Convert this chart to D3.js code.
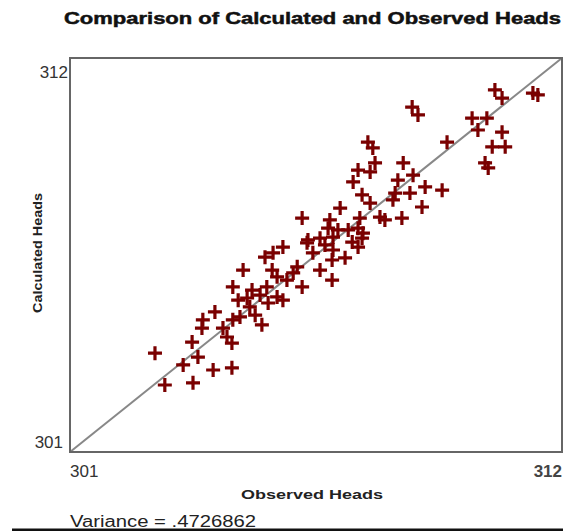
<!DOCTYPE html>
<html>
<head>
<meta charset="utf-8">
<script src="https://cdn.jsdelivr.net/npm/d3@7"></script>
<style>
body { margin: 0; background: #fff; }
text { font-family: "Liberation Sans", Arial, sans-serif; }
</style>
</head>
<body>
<script>
// observed (x) and calculated (y) heads
var observed = [302.90, 303.12, 303.75, 303.53, 303.86, 304.20, 304.62, 303.73, 303.97, 303.95,
    304.24, 304.42, 304.51, 304.62, 304.64, 304.80, 304.87, 304.64, 304.76, 304.96,
    305.07, 305.02, 305.14, 305.29, 305.25, 305.40, 305.36, 305.54, 305.76, 305.52,
    305.63, 305.43, 305.63, 305.76, 305.85, 305.99, 306.08, 306.19, 306.30, 306.43,
    306.59, 306.70, 306.88, 306.86, 307.82, 307.44, 307.71, 307.33, 308.45, 308.33,
    308.67, 308.94, 307.53, 307.71, 308.27, 308.22, 308.60, 308.87, 307.04, 306.19,
    306.81, 306.77, 307.48, 307.93, 308.04, 308.42, 307.44, 307.22, 306.99, 306.88,
    306.59, 306.32, 307.53, 307.44, 307.31, 307.15, 306.86, 310.50, 310.66, 311.35,
    311.46, 308.65, 308.78, 309.99, 310.32, 310.12, 310.66, 309.43, 310.44, 310.73,
    310.28, 310.35, 307.77, 307.66, 309.32, 307.55];

var calculated = [303.76, 302.87, 302.93, 303.43, 303.65, 303.29, 303.35, 304.07, 304.69, 304.46,
    304.91, 304.46, 304.21, 304.04, 304.69, 304.77, 306.08, 305.61, 305.24, 305.30,
    305.52, 305.05, 304.82, 304.55, 305.38, 305.61, 306.44, 306.56, 306.72, 306.08,
    305.89, 305.16, 305.33, 305.24, 305.80, 306.00, 306.17, 305.61, 306.84, 306.56,
    306.08, 306.78, 306.64, 305.80, 309.07, 308.87, 308.82, 308.54, 309.07, 308.59,
    308.73, 308.40, 308.18, 307.95, 308.23, 308.04, 308.23, 307.84, 307.81, 307.53,
    307.48, 307.25, 307.53, 307.56, 307.48, 307.53, 307.25, 307.20, 307.20, 307.00,
    306.97, 306.92, 306.97, 306.72, 306.86, 306.42, 306.36, 311.11, 310.88, 311.02,
    310.97, 310.63, 310.41, 310.32, 310.32, 309.99, 309.93, 309.65, 309.52, 309.52,
    309.07, 308.93, 309.49, 309.65, 308.31, 307.11];

var tickValues = [301, 312];
var title = "Comparison of Calculated and Observed Heads";
var variance = ".4726862";

var width = 563,
    height = 531;

var svg = d3.select('body')
    .append('svg')
    .attr('width', width)
    .attr('height', height);

var x = d3.scaleLinear().domain([301, 312]).range([70, 562]);
var y = d3.scaleLinear().domain([301, 312]).range([452, 58]);

svg.append('text')
    .attr('x', 64)
    .attr('y', 24)
    .attr('font-size', 17)
    .attr('font-weight', 'bold')
    .attr('textLength', 497)
    .attr('lengthAdjust', 'spacingAndGlyphs')
    .attr('fill', '#111')
    .attr('stroke', '#111')
    .attr('stroke-width', 0.5)
    .text(title);

// 1:1 line
svg.append('line')
    .attr('x1', x(301)).attr('y1', y(301))
    .attr('x2', x(312)).attr('y2', y(312))
    .attr('stroke', '#888')
    .attr('stroke-width', 2);

svg.selectAll('path.pt')
    .data(observed).enter()
    .append('path')
    .attr('class', 'pt')
    .attr('transform', (d, i) => 'translate(' + x(d) + ',' + y(calculated[i]) + ')')
    .attr('d', 'M-7,0H7M0,-7V7')
    .attr('stroke', '#7a0000')
    .attr('stroke-width', 3.2);

// frame
svg.append('rect')
    .attr('x', x(301)).attr('y', y(312))
    .attr('width', x(312) - x(301))
    .attr('height', y(301) - y(312))
    .attr('fill', 'none')
    .attr('stroke', '#666')
    .attr('stroke-width', 2);

// tick labels
svg.append('text')
    .attr('x', x(tickValues[0]) - 7).attr('y', y(tickValues[0]) - 4)
    .attr('text-anchor', 'end')
    .attr('font-size', 17).attr('fill', '#333')
    .text(tickValues[0]);
svg.append('text')
    .attr('x', x(tickValues[0]) - 2).attr('y', y(tickValues[1]) + 20)
    .attr('text-anchor', 'end')
    .attr('font-size', 17).attr('fill', '#333')
    .text(tickValues[1]);
svg.append('text')
    .attr('x', x(tickValues[0])).attr('y', y(tickValues[0]) + 25)
    .attr('font-size', 17).attr('fill', '#333')
    .text(tickValues[0]);
svg.append('text')
    .attr('x', x(tickValues[1])).attr('y', y(tickValues[0]) + 25)
    .attr('text-anchor', 'end')
    .attr('font-size', 17).attr('font-weight', 'bold').attr('fill', '#444')
    .text(tickValues[1]);

// axis titles
svg.append('text')
    .attr('x', 312).attr('y', 499)
    .attr('text-anchor', 'middle')
    .attr('font-size', 12).attr('font-weight', 'bold').attr('fill', '#222')
    .attr('textLength', 142)
    .attr('lengthAdjust', 'spacingAndGlyphs')
    .text('Observed Heads');

svg.append('text')
    .attr('transform', 'translate(42,253) rotate(-90)')
    .attr('text-anchor', 'middle')
    .attr('font-size', 12).attr('font-weight', 'bold').attr('fill', '#222')
    .attr('textLength', 120)
    .attr('lengthAdjust', 'spacingAndGlyphs')
    .text('Calculated Heads');

svg.append('text')
    .attr('x', 70).attr('y', 527)
    .attr('font-size', 16).attr('fill', '#222')
    .attr('textLength', 186)
    .attr('lengthAdjust', 'spacingAndGlyphs')
    .text('Variance = ' + variance);

svg.append('line')
    .attr('x1', 12).attr('x2', 563)
    .attr('y1', 530).attr('y2', 530)
    .attr('stroke', '#111')
    .attr('stroke-width', 3);
</script>
</body>
</html>
